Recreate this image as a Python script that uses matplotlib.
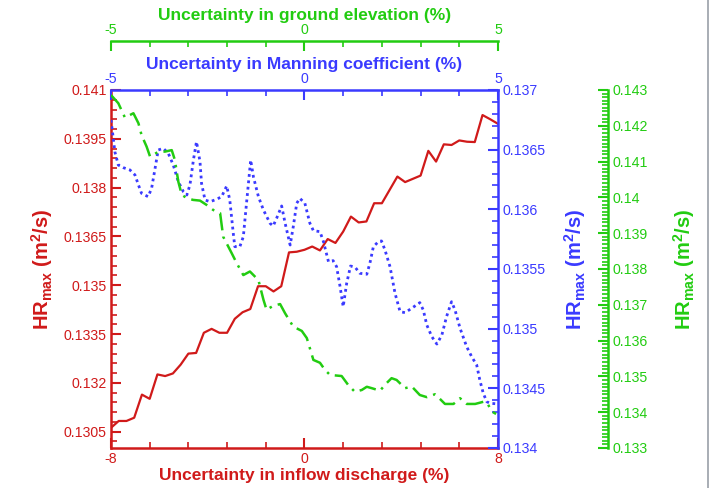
import numpy as np
import matplotlib
matplotlib.use('Agg')
import matplotlib.pyplot as plt
from matplotlib.ticker import FixedLocator, MultipleLocator, AutoMinorLocator, FormatStrFormatter
from matplotlib.lines import Line2D

plt.rcParams['font.family'] = ['Liberation Sans', 'DejaVu Sans']
plt.rcParams['axes.unicode_minus'] = False
plt.rcParams['mathtext.fontset'] = 'custom'
plt.rcParams['mathtext.rm'] = 'Liberation Sans:bold'
plt.rcParams['mathtext.it'] = 'Liberation Sans:bold'

RED = '#d01a1a'
BLUE = '#3a3aff'
GREEN = '#22cc11'

# Inflow discharge uncertainty (%) -> HRmax (m2/s)
inflow_x = np.linspace(-8, 8, 51)
inflow_hr = [0.13062, 0.13083, 0.13083, 0.13093, 0.13164, 0.13151, 0.13226, 0.13221,
             0.13229, 0.13256, 0.13290, 0.13292, 0.13354, 0.13366, 0.13354, 0.13354,
             0.13397, 0.13417, 0.13427, 0.13497, 0.13497, 0.13481, 0.13497, 0.13601,
             0.13603, 0.13609, 0.13619, 0.13607, 0.13642, 0.13630, 0.13665, 0.13711,
             0.13693, 0.13696, 0.13752, 0.13752, 0.13793, 0.13834, 0.13817, 0.13827,
             0.13837, 0.13913, 0.13880, 0.13933, 0.13931, 0.13945, 0.13941, 0.13940,
             0.14023, 0.14010, 0.13996]

# Manning coefficient uncertainty (%) -> HRmax (m2/s)
manning_x = [-5.00, -4.94, -4.90, -4.81, -4.68, -4.51, -4.38, -4.29, -4.21, -4.04,
             -3.95, -3.86, -3.78, -3.65, -3.52, -3.39, -3.26, -3.13, -3.04, -2.96,
             -2.87, -2.79, -2.70, -2.66, -2.57, -2.44, -2.27, -2.14, -2.01, -1.93,
             -1.84, -1.80, -1.67, -1.58, -1.49, -1.39, -1.32, -1.19, -1.06, -0.89,
             -0.81, -0.72, -0.59, -0.50, -0.37, -0.29, -0.20, -0.12, 0.01, 0.14,
             0.23, 0.40, 0.49, 0.62, 0.74, 0.83, 0.92, 1.00, 1.09, 1.19,
             1.31, 1.43, 1.61, 1.69, 1.78, 1.91, 1.99, 2.08, 2.21, 2.34,
             2.47, 2.60, 2.77, 2.98, 3.07, 3.16, 3.29, 3.42, 3.55, 3.67,
             3.80, 3.89, 4.02, 4.19, 4.32, 4.45, 4.53, 4.62, 4.71, 4.79, 5.00]
manning_hr = [0.136749, 0.136595, 0.136483, 0.136371, 0.136349, 0.136330, 0.136288, 0.136204,
              0.136134, 0.136106, 0.136176, 0.136344, 0.136497, 0.136511, 0.136470, 0.136371,
              0.136232, 0.136148, 0.136120, 0.136204, 0.136413, 0.136567, 0.136399, 0.136218,
              0.136078, 0.136064, 0.136084, 0.136106, 0.136196, 0.136078, 0.135799, 0.135687,
              0.135687, 0.135771, 0.136078, 0.136413, 0.136273, 0.136106, 0.135994, 0.135883,
              0.135860, 0.135925, 0.136028, 0.135883, 0.135701, 0.135854, 0.136051, 0.136092,
              0.136051, 0.135883, 0.135821, 0.135813, 0.135729, 0.135561, 0.135570, 0.135519,
              0.135352, 0.135184, 0.135380, 0.135525, 0.135514, 0.135464, 0.135456, 0.135548,
              0.135687, 0.135729, 0.135735, 0.135659, 0.135519, 0.135296, 0.135142, 0.135134,
              0.135171, 0.135218, 0.135156, 0.135031, 0.134933, 0.134871, 0.134947, 0.135100,
              0.135226, 0.135156, 0.135003, 0.134849, 0.134765, 0.134695, 0.134570, 0.134458,
              0.134388, 0.134375, 0.134369]

# Ground elevation uncertainty (%) -> HRmax (m2/s)
ground_x = [-5.00, -4.81, -4.64, -4.42, -4.29, -4.21, -4.08, -3.99, -3.78, -3.60,
            -3.43, -3.35, -3.26, -3.17, -3.04, -2.88, -2.70, -2.53, -2.36, -2.18,
            -2.10, -1.88, -1.75, -1.58, -1.41, -1.19, -1.06, -0.98, -0.81, -0.63,
            -0.50, -0.29, -0.07, 0.06, 0.23, 0.40, 0.53, 0.66, 0.96, 1.13,
            1.30, 1.48, 1.61, 1.74, 1.95, 2.12, 2.25, 2.38, 2.60, 2.77,
            2.98, 3.16, 3.37, 3.50, 3.63, 3.85, 4.02, 4.19, 4.41, 4.62,
            4.72, 4.84, 4.95]
ground_hr = [0.14286, 0.14263, 0.14223, 0.14235, 0.14207, 0.14174, 0.14142, 0.14114,
             0.14127, 0.14128, 0.14132, 0.14105, 0.14044, 0.14007, 0.13998, 0.13993,
             0.13991, 0.13979, 0.13965, 0.13956, 0.13890, 0.13844, 0.13816, 0.13783,
             0.13793, 0.13769, 0.13714, 0.13686, 0.13697, 0.13702, 0.13676, 0.13639,
             0.13627, 0.13607, 0.13546, 0.13538, 0.13518, 0.13504, 0.13501, 0.13476,
             0.13457, 0.13462, 0.13471, 0.13467, 0.13460, 0.13481, 0.13495, 0.13490,
             0.13467, 0.13472, 0.13448, 0.13442, 0.13450, 0.13437, 0.13423, 0.13423,
             0.13439, 0.13423, 0.13423, 0.13429, 0.13426, 0.13402, 0.13395]

left_ticks = [0.1305, 0.132, 0.1335, 0.135, 0.1365, 0.138, 0.1395, 0.141]
blue_ticks = [0.134, 0.1345, 0.135, 0.1355, 0.136, 0.1365, 0.137]
green_ticks = [0.133, 0.134, 0.135, 0.136, 0.137, 0.138, 0.139, 0.14, 0.141, 0.142, 0.143]

fig = plt.figure(figsize=(7.1, 4.88), dpi=100)
pos = [0.1563, 0.082, 0.5451, 0.7336]
ylabel = r'HR$_{\mathregular{max}}$ (m$^{\mathregular{2}}$/s)'


def style_axis(axis, color, which):
    axis.tick_params(axis=which, which='major', direction='in', length=7, width=1.5,
                     colors=color, labelsize=10.2, pad=3)
    axis.tick_params(axis=which, which='minor', direction='in', length=4, width=1.2,
                     colors=color)


# Red: inflow discharge (bottom / left)
ax = fig.add_axes(pos)
ax.plot(inflow_x, inflow_hr, color=RED, lw=1.6, zorder=3)
ax.set_xlim(-8, 8)
ax.set_ylim(0.13, 0.141)
ax.xaxis.set_major_locator(MultipleLocator(8))
ax.xaxis.set_minor_locator(AutoMinorLocator(5))
ax.yaxis.set_major_locator(FixedLocator(left_ticks))
ax.yaxis.set_minor_locator(FixedLocator(np.round(np.arange(0.1302, 0.14101, 0.0003), 5)))
ax.yaxis.set_major_formatter(FormatStrFormatter('%g'))
style_axis(ax, RED, 'x')
style_axis(ax, RED, 'y')
for s in ['top', 'right']:
    ax.spines[s].set_visible(False)
for s in ['left', 'bottom']:
    ax.spines[s].set_color(RED)
    ax.spines[s].set_linewidth(1.8)
ax.set_xlabel('Uncertainty in inflow discharge (%)', color=RED, fontsize=12.5,
              fontweight='bold', labelpad=1)
ax.set_ylabel(ylabel, color=RED, fontsize=14.5, fontweight='bold', labelpad=6)

# Blue: Manning coefficient (top / right)
axb = fig.add_axes(pos, facecolor='none')
axb.plot(manning_x, manning_hr, color=BLUE, lw=2, ls=(0, (1, 1.3)), zorder=3)
axb.set_xlim(-5, 5)
axb.set_ylim(0.134, 0.137)
axb.xaxis.tick_top()
axb.xaxis.set_label_position('top')
axb.yaxis.tick_right()
axb.yaxis.set_label_position('right')
axb.xaxis.set_major_locator(MultipleLocator(5))
axb.xaxis.set_minor_locator(AutoMinorLocator(5))
axb.yaxis.set_major_locator(FixedLocator(blue_ticks))
axb.yaxis.set_minor_locator(AutoMinorLocator(5))
axb.yaxis.set_major_formatter(FormatStrFormatter('%g'))
style_axis(axb, BLUE, 'x')
style_axis(axb, BLUE, 'y')
for s in ['bottom', 'left']:
    axb.spines[s].set_visible(False)
for s in ['top', 'right']:
    axb.spines[s].set_color(BLUE)
    axb.spines[s].set_linewidth(1.8)
axb.set_xlabel('Uncertainty in Manning coefficient (%)', color=BLUE, fontsize=12.5,
               fontweight='bold', labelpad=2)
axb.set_ylabel(ylabel, color=BLUE, fontsize=14.5, fontweight='bold', labelpad=12)

# Green: ground elevation (offset top / offset right)
axg = fig.add_axes(pos, facecolor='none')
axg.plot(ground_x, ground_hr, color=GREEN, lw=1.8, ls=(0, (7, 2.5, 1, 2.5)), zorder=3)
axg.set_xlim(-5, 5)
axg.set_ylim(0.133, 0.143)
axg.xaxis.tick_top()
axg.xaxis.set_label_position('top')
axg.yaxis.tick_right()
axg.yaxis.set_label_position('right')
axg.xaxis.set_major_locator(MultipleLocator(5))
axg.xaxis.set_minor_locator(AutoMinorLocator(5))
axg.yaxis.set_major_locator(FixedLocator(green_ticks))
axg.yaxis.set_minor_locator(AutoMinorLocator(10))
axg.yaxis.set_major_formatter(FormatStrFormatter('%g'))
style_axis(axg, GREEN, 'x')
style_axis(axg, GREEN, 'y')
for s in ['bottom', 'left']:
    axg.spines[s].set_visible(False)
axg.spines['top'].set_position(('outward', 35.3))
axg.spines['right'].set_position(('outward', 79.2))
for s in ['top', 'right']:
    axg.spines[s].set_color(GREEN)
    axg.spines[s].set_linewidth(1.8)
axg.set_xlabel('Uncertainty in ground elevation (%)', color=GREEN, fontsize=12.5,
               fontweight='bold', labelpad=2)
axg.set_ylabel(ylabel, color=GREEN, fontsize=14.5, fontweight='bold', labelpad=17)

fig.add_artist(Line2D([0.997, 0.997], [0, 1], color='#9aa0a8', lw=1.2))

fig.savefig('out.png', dpi=100)
